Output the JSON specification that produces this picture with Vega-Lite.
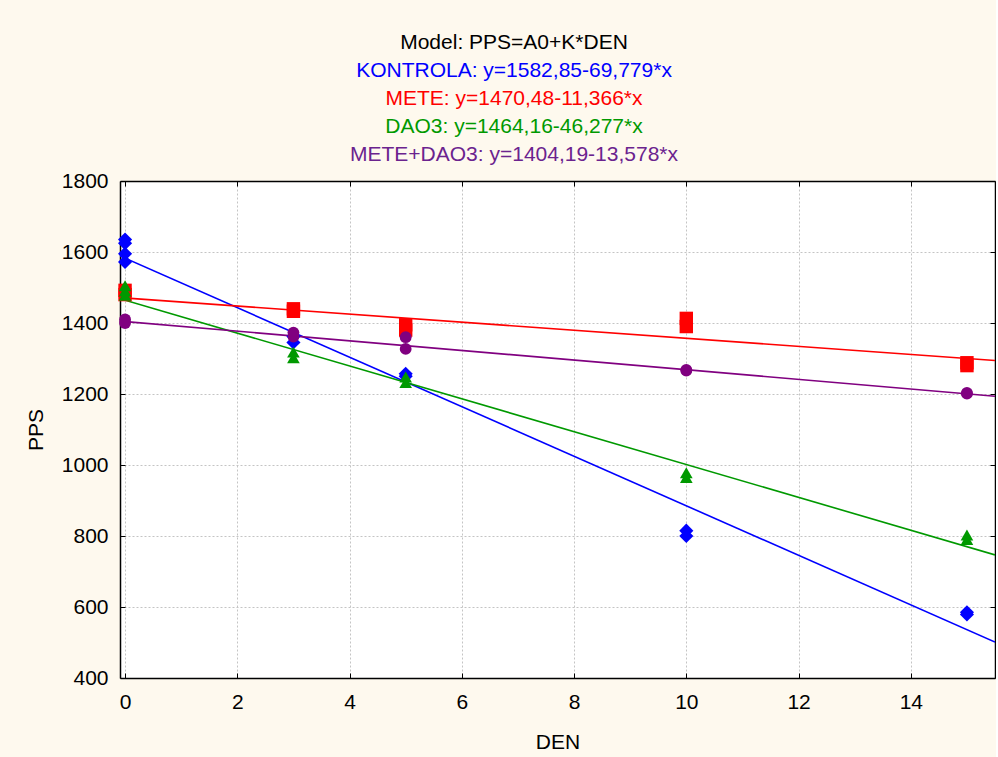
{
  "$schema": "https://vega.github.io/schema/vega-lite/v6.json",
  "background": "#FEF9EE",
  "padding": {"left": 25, "top": 29, "right": 0, "bottom": 5},
  "spacing": 1,
  "resolve": {"scale": {"color": "independent"}},
  "config": {
    "font": "Liberation Sans",
    "view": {"stroke": null},
    "axis": {
      "labelFont": "Liberation Sans",
      "titleFont": "Liberation Sans",
      "labelFontSize": 21,
      "titleFontSize": 21,
      "titleFontWeight": "normal",
      "labelColor": "black",
      "titleColor": "black",
      "domainColor": "black",
      "domainWidth": 1.5,
      "tickColor": "black",
      "tickWidth": 1,
      "gridColor": "#c4c4c4",
      "gridDash": [2, 2],
      "gridWidth": 1
    }
  },
  "datasets": {
    "titles": [
      {"line": 1, "text": "Model: PPS=A0+K*DEN"},
      {"line": 2, "text": "KONTROLA: y=1582,85-69,779*x"},
      {"line": 3, "text": "METE: y=1470,48-11,366*x"},
      {"line": 4, "text": "DAO3: y=1464,16-46,277*x"},
      {"line": 5, "text": "METE+DAO3: y=1404,19-13,578*x"}
    ],
    "pts": [
      {"series": "KONTROLA", "DEN": 0, "PPS": 1635},
      {"series": "KONTROLA", "DEN": 0, "PPS": 1625},
      {"series": "KONTROLA", "DEN": 0, "PPS": 1595},
      {"series": "KONTROLA", "DEN": 0, "PPS": 1572},
      {"series": "KONTROLA", "DEN": 3, "PPS": 1362},
      {"series": "KONTROLA", "DEN": 3, "PPS": 1345},
      {"series": "KONTROLA", "DEN": 5, "PPS": 1257},
      {"series": "KONTROLA", "DEN": 5, "PPS": 1250},
      {"series": "KONTROLA", "DEN": 10, "PPS": 815},
      {"series": "KONTROLA", "DEN": 10, "PPS": 800},
      {"series": "KONTROLA", "DEN": 15, "PPS": 585},
      {"series": "KONTROLA", "DEN": 15, "PPS": 579},
      {"series": "METE", "DEN": 0, "PPS": 1492},
      {"series": "METE", "DEN": 0, "PPS": 1480},
      {"series": "METE", "DEN": 3, "PPS": 1440},
      {"series": "METE", "DEN": 3, "PPS": 1433},
      {"series": "METE", "DEN": 5, "PPS": 1395},
      {"series": "METE", "DEN": 5, "PPS": 1380},
      {"series": "METE", "DEN": 10, "PPS": 1413},
      {"series": "METE", "DEN": 10, "PPS": 1390},
      {"series": "METE", "DEN": 15, "PPS": 1288},
      {"series": "METE", "DEN": 15, "PPS": 1280},
      {"series": "DAO3", "DEN": 0, "PPS": 1505},
      {"series": "DAO3", "DEN": 0, "PPS": 1490},
      {"series": "DAO3", "DEN": 0, "PPS": 1478},
      {"series": "DAO3", "DEN": 3, "PPS": 1318},
      {"series": "DAO3", "DEN": 3, "PPS": 1302},
      {"series": "DAO3", "DEN": 5, "PPS": 1248},
      {"series": "DAO3", "DEN": 5, "PPS": 1232},
      {"series": "DAO3", "DEN": 10, "PPS": 978},
      {"series": "DAO3", "DEN": 10, "PPS": 965},
      {"series": "DAO3", "DEN": 15, "PPS": 803},
      {"series": "DAO3", "DEN": 15, "PPS": 790},
      {"series": "METE+DAO3", "DEN": 0, "PPS": 1410},
      {"series": "METE+DAO3", "DEN": 0, "PPS": 1400},
      {"series": "METE+DAO3", "DEN": 3, "PPS": 1373},
      {"series": "METE+DAO3", "DEN": 3, "PPS": 1362},
      {"series": "METE+DAO3", "DEN": 5, "PPS": 1360},
      {"series": "METE+DAO3", "DEN": 5, "PPS": 1327},
      {"series": "METE+DAO3", "DEN": 10, "PPS": 1268},
      {"series": "METE+DAO3", "DEN": 10, "PPS": 1266},
      {"series": "METE+DAO3", "DEN": 15, "PPS": 1203},
      {"series": "METE+DAO3", "DEN": 15, "PPS": 1201}
    ],
    "fits": [
      {"series": "KONTROLA", "DEN": -0.09, "PPS": 1589.13},
      {"series": "KONTROLA", "DEN": 15.5, "PPS": 501.28},
      {"series": "METE", "DEN": -0.09, "PPS": 1471.50},
      {"series": "METE", "DEN": 15.5, "PPS": 1294.31},
      {"series": "DAO3", "DEN": -0.09, "PPS": 1468.32},
      {"series": "DAO3", "DEN": 15.5, "PPS": 746.87},
      {"series": "METE+DAO3", "DEN": -0.09, "PPS": 1405.41},
      {"series": "METE+DAO3", "DEN": 15.5, "PPS": 1193.73}
    ]
  },
  "vconcat": [
    {
      "width": 788,
      "height": 140,
      "view": {"fill": null, "stroke": null},
      "data": {"name": "titles"},
      "mark": {"type": "text", "fontSize": 21, "font": "Liberation Sans", "align": "center", "baseline": "middle"},
      "encoding": {
        "y": {"field": "line", "type": "ordinal", "axis": null},
        "text": {"field": "text"},
        "color": {
          "field": "line", "type": "ordinal", "legend": null,
          "scale": {"domain": [1, 2, 3, 4, 5], "range": ["#000000", "#0000FF", "#FF0000", "#009900", "#6B238E"]}
        }
      }
    },
    {
      "width": 875,
      "height": 497,
      "view": {"fill": "white", "stroke": null},
      "resolve": {"axis": {"x": "independent", "y": "independent"}},
      "layer": [
        {
          "data": {"name": "fits"},
          "mark": {"type": "line", "strokeWidth": 1.6, "clip": true},
          "encoding": {
            "x": {"field": "DEN", "type": "quantitative",
              "scale": {"domain": [-0.09, 15.5], "nice": false, "zero": false},
              "axis": {"orient": "top", "labels": false, "title": null, "grid": false, "tickSize": -5, "values": [0, 2, 4, 6, 8, 10, 12, 14]}},
            "y": {"field": "PPS", "type": "quantitative",
              "scale": {"domain": [400, 1800], "nice": false, "zero": false},
              "axis": {"orient": "right", "labels": false, "title": null, "grid": false, "tickSize": -5, "values": [400, 600, 800, 1000, 1200, 1400, 1600, 1800]}},
            "color": {"field": "series", "type": "nominal", "legend": null,
              "scale": {"domain": ["KONTROLA", "METE", "DAO3", "METE+DAO3"], "range": ["#0000FF", "#FF0000", "#009900", "#800080"]}},
            "detail": {"field": "series"}
          }
        },
        {
          "data": {"name": "pts"},
          "mark": {"type": "point", "filled": true, "opacity": 1, "strokeWidth": 0},
          "encoding": {
            "x": {"field": "DEN", "type": "quantitative",
              "axis": {"orient": "bottom", "title": "DEN", "grid": true, "tickSize": -5, "labelPadding": 18, "titlePadding": 19, "format": "d", "values": [0, 2, 4, 6, 8, 10, 12, 14]}},
            "y": {"field": "PPS", "type": "quantitative",
              "axis": {"orient": "left", "title": "PPS", "grid": true, "tickSize": -5, "labelPadding": 17, "titlePadding": 15, "format": "d", "values": [400, 600, 800, 1000, 1200, 1400, 1600, 1800]}},
            "color": {"field": "series", "type": "nominal", "legend": null},
            "shape": {"field": "series", "type": "nominal", "legend": null,
              "scale": {"domain": ["KONTROLA", "METE", "DAO3", "METE+DAO3"], "range": ["diamond", "square", "triangle-up", "circle"]}},
            "size": {"field": "series", "type": "nominal", "legend": null,
              "scale": {"domain": ["KONTROLA", "METE", "DAO3", "METE+DAO3"], "range": [200, 140, 170, 130]}}
          }
        }
      ]
    }
  ]
}
